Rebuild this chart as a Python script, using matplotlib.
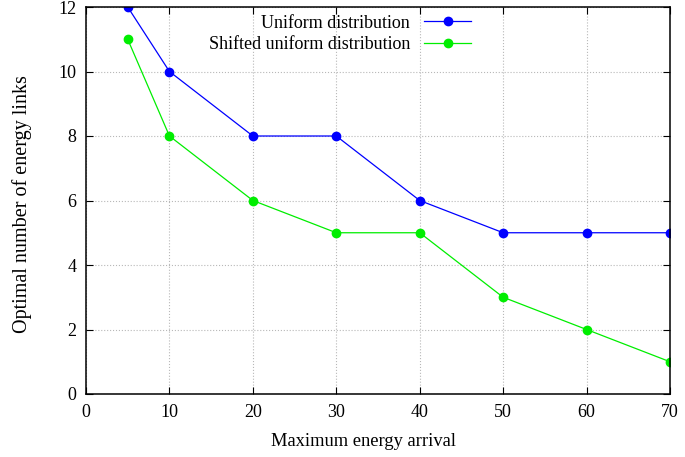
import matplotlib
matplotlib.use('Agg')
import matplotlib.pyplot as plt

plt.rcParams['font.family'] = ['Liberation Serif', 'DejaVu Serif']

# data
arrival = [5, 10, 20, 30, 40, 50, 60, 70]
uniform = [12, 10, 8, 8, 6, 5, 5, 5]
shifted = [11, 8, 6, 5, 5, 3, 2, 1]

fig = plt.figure(figsize=(6.85, 4.57), dpi=100)
ax = fig.add_axes([86 / 685, 1 - 394 / 457, (670 - 86) / 685, (394 - 7) / 457])

ax.plot(arrival, uniform, '-o', color='#0000ff', lw=0.9, ms=6, label='Uniform distribution')
ax.plot(arrival, shifted, '-o', color='#00ee00', lw=0.9, ms=6, label='Shifted uniform distribution')

ax.set_xlim(0, 70)
ax.set_ylim(0, 12)
ax.set_xticks(range(0, 71, 10))
ax.set_yticks(range(0, 13, 2))
ax.tick_params(direction='in', top=True, right=True, labelsize=13, length=5, pad=7)
ax.grid(True, color='#b8b8b8', linestyle=':', lw=0.8)
for s in ax.spines.values():
    s.set_linewidth(1.1)

ax.set_xlabel('Maximum energy arrival', fontsize=13.3)
ax.set_ylabel('Optimal number of energy links', fontsize=14.5)
ax.xaxis.set_label_coords(0.475, -0.1)
ax.yaxis.set_label_coords(-0.093, 0.491)

ax.legend(loc='upper right', bbox_to_anchor=(484 / 685, 1 - 2 / 457), bbox_transform=fig.transFigure,
          frameon=False, markerfirst=False, alignment='right', fontsize=13,
          handlelength=2.6, handletextpad=0.8, labelspacing=0.25, borderpad=0.2)

fig.savefig('out.png', dpi=100)
